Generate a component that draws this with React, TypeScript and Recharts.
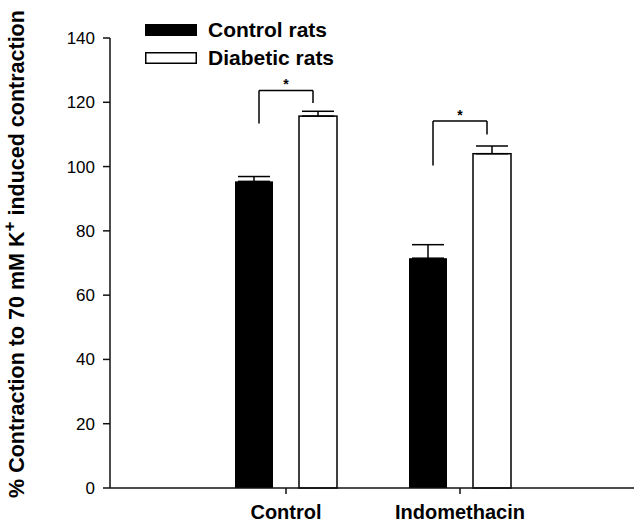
import { BarChart, Bar, XAxis, YAxis, ErrorBar, Legend } from "recharts";

const categories = ["Control", "Indomethacin"];
const controlRats = [95.4, 71.5];
const diabeticRats = [115.7, 104.0];
const controlSem = [1.5, 4.2];
const diabeticSem = [1.5, 2.4];
// significance brackets: top of bracket, foot over control bar, foot over diabetic bar
const bracketTop = [123.7, 114.2];
const bracketLeft = [113.4, 100.3];
const bracketRight = [119.8, 110.0];
const yTicks = [0, 20, 40, 60, 80, 100, 120, 140];

const BAR = 38;
const GAP = 26;
const FONT = "'Liberation Sans', Arial, sans-serif";

const data = categories.map((name, i) => ({
  name,
  control: controlRats[i],
  diabetic: diabeticRats[i],
  controlErr: [0, controlSem[i]],
  diabeticErr: [0, diabeticSem[i]],
  top: bracketTop[i],
  left: bracketLeft[i],
  right: bracketRight[i],
}));

const ControlShape = (props: any) => {
  const { x, y, width, height, payload } = props;
  const k = height / payload.control;
  const base = y + height;
  const cx = x + width / 2 + 5;
  return (
    <g>
      <rect x={x} y={y} width={width} height={height} fill="#000" />
      <line x1={cx} x2={cx} y1={base - payload.left * k} y2={base - payload.top * k} stroke="#000" strokeWidth={1.5} />
    </g>
  );
};

const DiabeticShape = (props: any) => {
  const { x, y, width, height, payload } = props;
  const k = height / payload.diabetic;
  const base = y + height;
  const rx = x + width / 2 - 5;
  const lx = x + width / 2 - (BAR + GAP) + 5;
  const ty = base - payload.top * k;
  return (
    <g>
      <rect x={x} y={y} width={width} height={height} fill="#fff" stroke="#000" strokeWidth={1.5} />
      <line x1={rx} x2={rx} y1={base - payload.right * k} y2={ty} stroke="#000" strokeWidth={1.5} />
      <line x1={lx} x2={rx} y1={ty} y2={ty} stroke="#000" strokeWidth={1.5} />
      <text x={(lx + rx) / 2} y={ty - 1} textAnchor="middle" fontSize={14} fontWeight="bold" fontFamily={FONT}>
        *
      </text>
    </g>
  );
};

const renderLegend = ({ payload }: any) => (
  <div style={{ fontFamily: FONT, fontWeight: "bold", fontSize: 21 }}>
    {(payload || []).map((p: any, i: number) => (
      <div key={i} style={{ display: "flex", alignItems: "center", height: 28 }}>
        <svg width={52} height={12} style={{ marginRight: 11 }}>
          <rect x={0.75} y={0.75} width={50.5} height={10.5} fill={p.color} stroke="#000" strokeWidth={1.5} />
        </svg>
        <span>{p.value}</span>
      </div>
    ))}
  </div>
);

const YLabel = ({ viewBox }: any) => {
  const x = viewBox.x - 26;
  const y = viewBox.y + viewBox.height / 2 - 9;
  return (
    <text
      x={x}
      y={y}
      transform={`rotate(-90, ${x}, ${y})`}
      textAnchor="middle"
      fontFamily={FONT}
      fontWeight="bold"
      fontSize={21.5}
      fill="#000"
    >
      % Contraction to 70 mM K
      <tspan dy={-9} fontSize={17}>+</tspan>
      <tspan dy={9}> induced contraction</tspan>
    </text>
  );
};

const App = () => (
  <div style={{ position: "absolute", left: 0, top: 0, width: 634, height: 527, background: "#fff" }}>
    <BarChart
      width={634}
      height={527}
      data={data}
      margin={{ top: 38, right: 0, bottom: 0, left: 50 }}
      barSize={BAR}
      barGap={GAP}
    >
      <XAxis
        dataKey="name"
        padding={{ left: 89, right: 87 }}
        height={39}
        stroke="#111"
        strokeWidth={1.5}
        tickSize={6}
        tickMargin={11}
        tick={{ fontSize: 20, fontWeight: "bold", fill: "#000", fontFamily: FONT }}
      />
      <YAxis
        width={60}
        domain={[0, 140]}
        ticks={yTicks}
        interval={0}
        stroke="#111"
        strokeWidth={1.5}
        tickSize={7}
        tickMargin={8}
        tick={{ fontSize: 17, fill: "#000", fontFamily: FONT }}
        label={<YLabel />}
      />
      <Legend
        layout="vertical"
        align="center"
        verticalAlign="middle"
        wrapperStyle={{ left: 145, top: 16, width: "auto" }}
        content={renderLegend}
      />
      <Bar dataKey="control" name="Control rats" fill="#000" shape={ControlShape} isAnimationActive={false}>
        <ErrorBar dataKey="controlErr" direction="y" width={16} stroke="#000" strokeWidth={1.5} />
      </Bar>
      <Bar dataKey="diabetic" name="Diabetic rats" fill="#fff" shape={DiabeticShape} isAnimationActive={false}>
        <ErrorBar dataKey="diabeticErr" direction="y" width={16} stroke="#000" strokeWidth={1.5} />
      </Bar>
    </BarChart>
  </div>
);

export default App;
